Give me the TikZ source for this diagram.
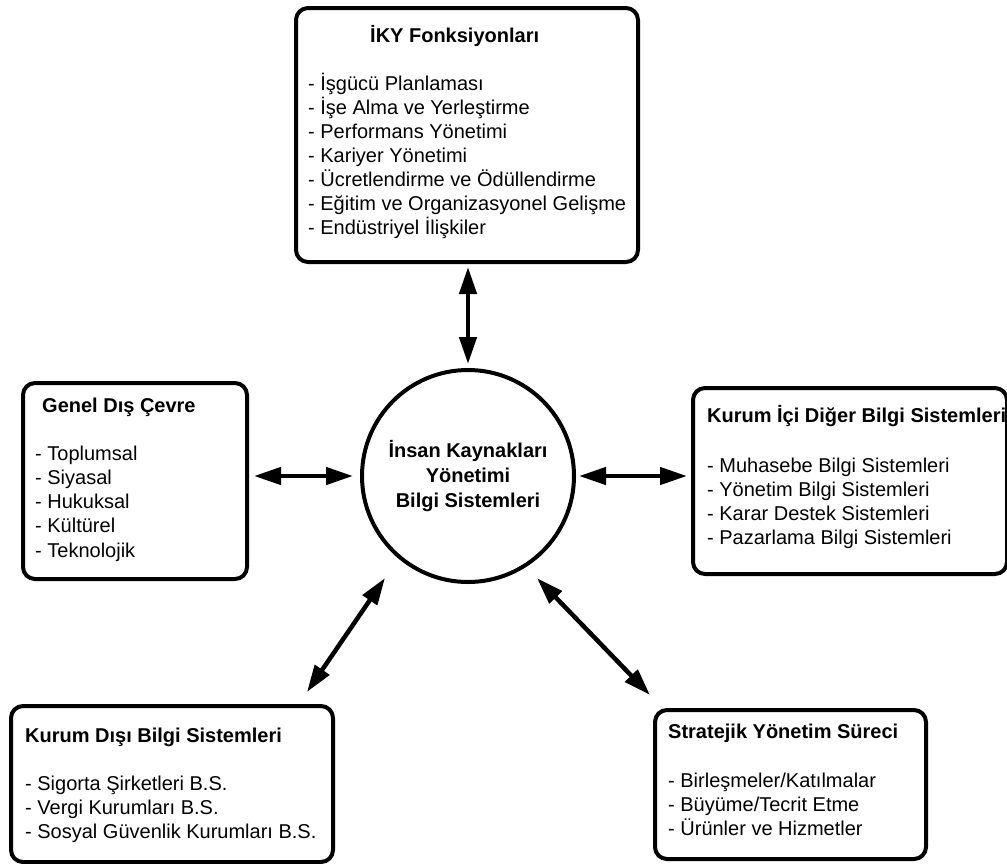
\documentclass[tikz,border=0pt]{standalone}
\usepackage{fontspec}
\setmainfont{Liberation Sans}
\usetikzlibrary{arrows.meta,calc}
\begin{document}
\begin{tikzpicture}[x=1pt,y=-1pt,
  box/.style={draw, line width=4pt, rounded corners=12pt, rectangle, anchor=north west, inner sep=0pt},
  hub/.style={draw, line width=4pt, circle, minimum size=212pt, inner sep=0pt, align=center,
              font=\fontsize{20}{25}\selectfont\bfseries},
  head/.style={anchor=base west, inner sep=0pt, font=\fontsize{20}{24}\selectfont\bfseries},
  item/.style={anchor=base west, inner sep=0pt, font=\fontsize{20}{24}\selectfont},
  link/.style={line width=4.5pt, {Triangle[length=27pt,width=17pt]}-{Triangle[length=27pt,width=17pt]}}
]
\useasboundingbox (0,0) rectangle (1007,863);

% central system
\node[hub] (c) at (468,476) {İnsan Kaynakları\\Yönetimi\\Bilgi Sistemleri};

% surrounding boxes
\node[box, minimum width=342pt, minimum height=254pt] (iky) at (294,6) {};
\node[box, minimum width=224pt, minimum height=196pt] (gdc) at (21,381) {};
\node[box, minimum width=314pt, minimum height=186pt] (kid) at (691,386) {};
\node[box, minimum width=322pt, minimum height=156pt] (kdb) at (9,704) {};
\node[box, minimum width=271pt, minimum height=149pt] (sys) at (653,708) {};

% box contents
\node[head] (iky-t) at (370,42) {İKY Fonksiyonları};
\foreach \t [count=\i] in {- İşgücü Planlaması, - İşe Alma ve Yerleştirme, - Performans Yönetimi,
  - Kariyer Yönetimi, - Ücretlendirme ve Ödüllendirme, - Eğitim ve Organizasyonel Gelişme,
  - Endüstriyel İlişkiler}
  \node[item] (iky-\i) at (308,{90+24.1*(\i-1)}) {\t};

\node[head] (gdc-t) at (42,412) {Genel Dış Çevre};
\foreach \t [count=\i] in {- Toplumsal, - Siyasal, - Hukuksal, - Kültürel, - Teknolojik}
  \node[item] (gdc-\i) at (35,{460+24.25*(\i-1)}) {\t};

\node[head] (kid-t) at (707,422) {Kurum İçi Diğer Bilgi Sistemleri};
\foreach \t [count=\i] in {- Muhasebe Bilgi Sistemleri, - Yönetim Bilgi Sistemleri,
  - Karar Destek Sistemleri, - Pazarlama Bilgi Sistemleri}
  \node[item] (kid-\i) at (707,{472+24.3*(\i-1)}) {\t};

\node[head] (kdb-t) at (25,742) {Kurum Dışı Bilgi Sistemleri};
\foreach \t [count=\i] in {- Sigorta Şirketleri B.S., - Vergi Kurumları B.S.,
  - Sosyal Güvenlik Kurumları B.S.}
  \node[item] (kdb-\i) at (25,{790+24*(\i-1)}) {\t};

\node[head] (sys-t) at (668,738) {Stratejik Yönetim Süreci};
\foreach \t [count=\i] in {- Birleşmeler/Katılmalar, - Büyüme/Tecrit Etme, - Ürünler ve Hizmetler}
  \node[item] (sys-\i) at (668,{787+24*(\i-1)}) {\t};

% two-way links
\draw[link, shorten <=3pt, shorten >=4pt] (c |- iky.south) -- (c.north);
\draw[link, shorten <=5pt, shorten >=7pt] (c.west -| gdc.east) -- (c.west);
\draw[link, shorten <=3pt, shorten >=4pt] (c.east) -- (c.east -| kid.west);
\draw[link] ($(c.center)+(-83,102)$) -- ($(kdb.north east)+(-28,-12)$);
\draw[link] ($(c.center)+(69,102)$) -- ($(sys.north west)+(-3,-13)$);
\end{tikzpicture}
\end{document}
